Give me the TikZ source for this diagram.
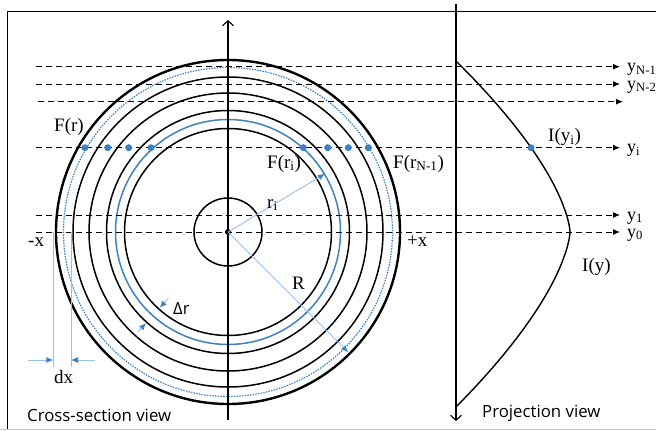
\documentclass[tikz,border=0pt]{standalone}
\usepackage{fontspec}
\setmainfont{Liberation Serif}
\setsansfont{Open Sans}
\usetikzlibrary{arrows.meta,positioning,calc}
\definecolor{ringblue}{RGB}{62,128,196}
\definecolor{lineblue}{RGB}{150,192,232}

\begin{document}
\begin{tikzpicture}[
    x=1pt, y=-1pt,
    ring/.style={draw, line width=1.5pt},
    scanline/.style={dash pattern=on 6pt off 4pt, line width=1pt, -{Latex[length=7pt,width=6pt]}},
    axis/.style={line width=1.1pt, -{Straight Barb[length=5pt,width=11pt]}},
    dot/.style={circle, fill=ringblue, inner sep=0pt, minimum size=7pt},
    lbl/.style={inner sep=0pt, anchor=base west, font=\fontsize{19}{21}\selectfont},
    ylbl/.style={inner sep=0pt, anchor=base west, font=\fontsize{18}{20}\selectfont},
    view/.style={inner sep=0pt, anchor=base west, font=\sffamily\fontsize{16.8}{19}\selectfont},
    dim/.style={lineblue, line width=0.9pt},
    dimarrow/.style={lineblue, line width=0.9pt, -{Latex[length=7pt,width=6pt,color=ringblue]}}
]
    \useasboundingbox (0,0) rectangle (656,431);
    % frame
    \draw[line width=1pt] (7,429) -- (7,11) -- (660,11);
    \draw[gray!45, line width=1.4pt] (0,429.5) -- (656,429.5);

    % rings of the cross-section
    \coordinate (O) at (228,232);
    \draw[ring, line width=2.4pt] (O) circle[radius=172];
    \draw[ringblue, line width=1.2pt, dash pattern=on 1.5pt off 1.2pt] (O) circle[radius=164.5];
    \draw[ring] (O) circle[radius=155];
    \draw[ring] (O) circle[radius=139];
    \draw[ring] (O) circle[radius=121.5];
    \draw[ringblue, line width=1.5pt] (O) circle[radius=112.5];
    \draw[ring] (O) circle[radius=103.5];
    \draw[ring] (O) circle[radius=34];
    \fill (O) circle[radius=3];

    % axes
    \coordinate (axbot) at (228,420);
    \coordinate (axtop) at (228,20);
    \draw[axis] (axbot) -- (axtop);
    \coordinate (pjtop) at (456,4);
    \coordinate (pjbot) at (456,421);
    \draw[axis] (pjtop) -- (pjbot);

    % scan lines
    \node[ylbl] (yN1) at (627,71.5) {y\textsubscript{N-1}};
    \node[ylbl] (yN2) at (627,89) {y\textsubscript{N-2}};
    \node[ylbl] (yi) at (627,152.5) {y\textsubscript{i}};
    \node[ylbl] (y1) at (627,220) {y\textsubscript{1}};
    \node[ylbl] (y0) at (627,237) {y\textsubscript{0}};
    \coordinate (sN1) at (36,66.7);
    \coordinate (sN2) at (36,84);
    \coordinate (s3) at (38,101.7);
    \coordinate (e3) at (623,101.7);
    \coordinate (si) at (36,147.7);
    \coordinate (s1) at (36,215);
    \coordinate (s0) at (36,232);
    \draw[scanline, shorten >=7pt] (sN1) -- (sN1 -| yN1.west);
    \draw[scanline, shorten >=7pt] (sN2) -- (sN2 -| yN2.west);
    \draw[scanline] (s3) -- (e3);
    \draw[scanline, shorten >=7pt] (si) -- (si -| yi.west);
    \draw[scanline, shorten >=7pt] (s1) -- (s1 -| y1.west);
    \draw[scanline, shorten >=7pt] (s0) -- (s0 -| y0.west);

    % projection profile
    \draw[line width=1.4pt]
        plot[domain=-1:0, samples=60] ({456+114*(1-(abs(\x)+0.0001)^1.52)}, {232+171*\x})
        -- plot[domain=0:1, samples=60] ({456+114*(1-(abs(\x)+0.0001)^1.52)}, {232+175*\x});

    % sample points
    \node[dot] (fl1) at (85,147.7) {};
    \node[dot] (fl2) at (107.7,147.7) {};
    \node[dot] (fl3) at (128.7,147.7) {};
    \node[dot] (fl4) at (151,147.7) {};
    \node[dot] (fr1) at (303.3,147.7) {};
    \node[dot] (fr2) at (327.7,147.7) {};
    \node[dot] (fr3) at (348.3,147.7) {};
    \node[dot] (fr4) at (368.3,147.7) {};
    \node[dot] (iyi) at (531,147.7) {};

    % radii
    \coordinate (ri) at ($(O)+(-31:113)$);
    \coordinate (Rend) at ($(O)+(45:170)$);
    \draw[dimarrow] (O) -- (ri);
    \draw[dimarrow] (O) -- (Rend);

    % ring thickness
    \coordinate (dri1) at ($(O)+(132:89)$);
    \coordinate (dri2) at ($(O)+(132:102)$);
    \coordinate (dro1) at ($(O)+(132:134)$);
    \coordinate (dro2) at ($(O)+(132:122.5)$);
    \draw[dimarrow] (dri1) -- (dri2);
    \draw[dimarrow] (dro1) -- (dro2);

    % strip width
    \coordinate (dxa1) at (53.3,232);
    \coordinate (dxa2) at (53.3,367);
    \coordinate (dxb1) at (71,232);
    \coordinate (dxb2) at (71,367);
    \draw[dim] (dxa1) -- (dxa2);
    \draw[dim] (dxb1) -- (dxb2);
    \coordinate (dxl) at (28,360);
    \coordinate (dxr) at (95,360);
    \draw[dimarrow] (dxl) -- (dxl -| dxa2);
    \draw[dimarrow] (dxr) -- (dxr -| dxb2);

    % labels
    \node[lbl] (Fr) at (54,131) {F(r)};
    \node[lbl] (Fri) at (267,168) {F(r\textsubscript{i})};
    \node[lbl] (FrN) at (393,168) {F(r\textsubscript{N-1})};
    \node[lbl] (rilbl) at (267,208) {r\textsubscript{i}};
    \node[lbl] (Iyi) at (548,141.5) {I(y\textsubscript{i})};
    \node[lbl] (Iy) at (582,271.5) {I(y)};
    \node[lbl] (Rlbl) at (292,289) {R};
    \node[view] (drlbl) at (173,314) {Δr};
    \node[lbl] (mx) at (28,246) {-x};
    \node[lbl] (px) at (407,246) {+x};
    \node[lbl] (dxlbl) at (54,383) {dx};
    \node[view] (csv) at (27,421) {Cross-section view};
    \node[view] (pv) at (482,417.5) {Projection view};
\end{tikzpicture}
\end{document}
